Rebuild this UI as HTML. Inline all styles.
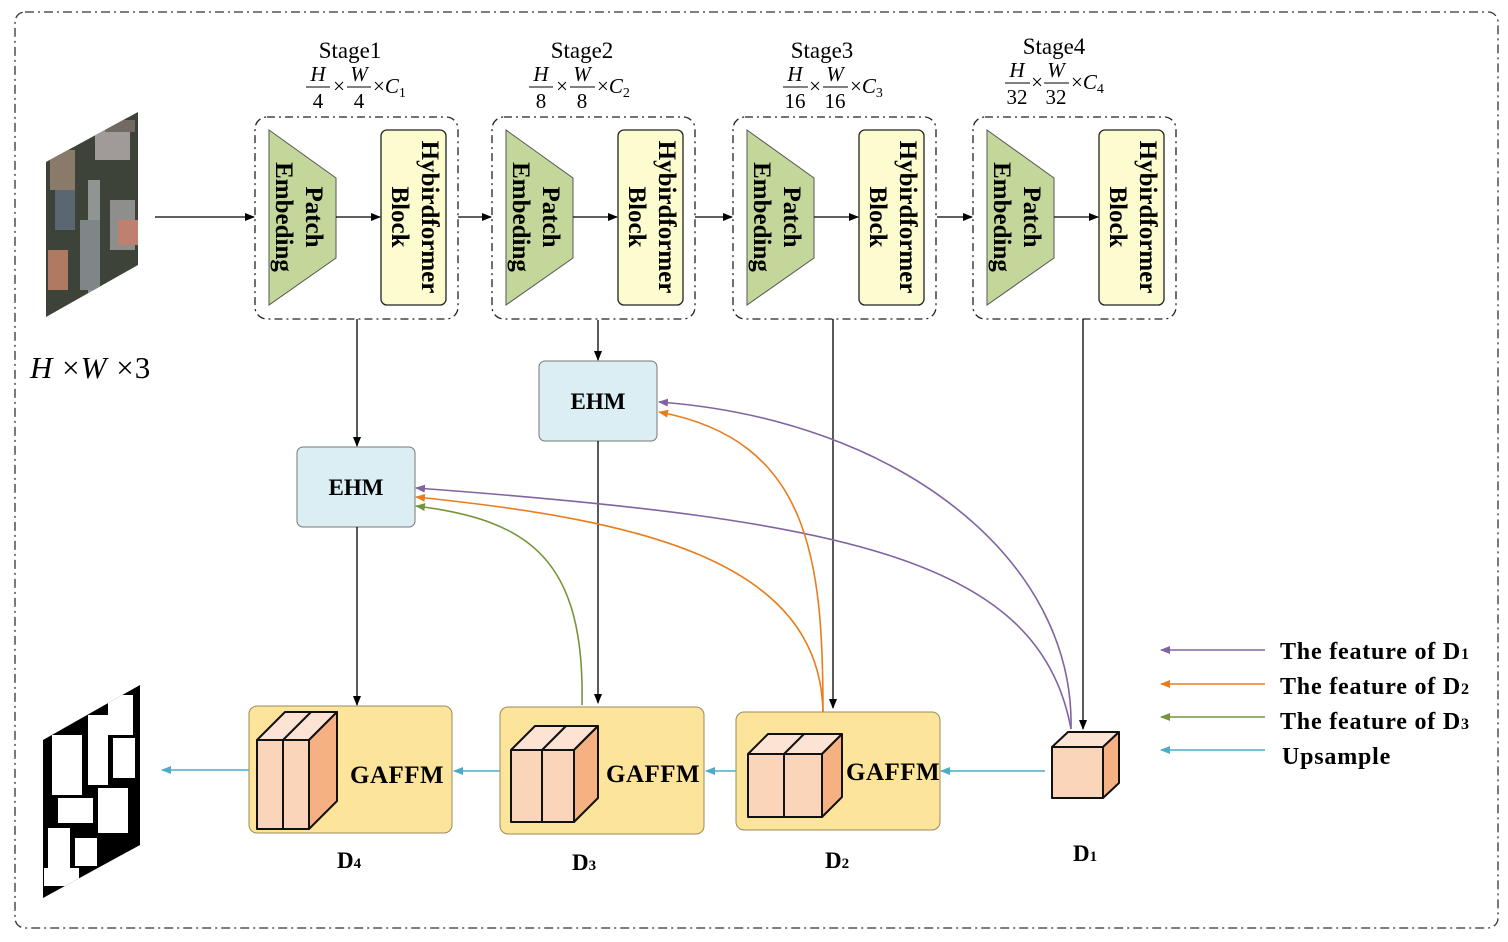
<!DOCTYPE html>
<html><head><meta charset="utf-8"><style>
html,body{margin:0;padding:0;background:#fff}
svg{display:block}
text{font-family:"Liberation Serif",serif}
.b{font-weight:bold}
</style></head><body>
<svg width="1508" height="942" viewBox="0 0 1508 942" xmlns="http://www.w3.org/2000/svg">
<defs>
<marker id="ak" markerWidth="10" markerHeight="8" refX="9" refY="4" orient="auto" markerUnits="userSpaceOnUse"><path d="M0,0 L10,4 L0,8 Z" fill="#000"/></marker>
<marker id="ac" markerWidth="10" markerHeight="8" refX="9" refY="4" orient="auto" markerUnits="userSpaceOnUse"><path d="M0,0 L10,4 L0,8 Z" fill="#4bacc6"/></marker>
<marker id="ap" markerWidth="10" markerHeight="8" refX="9" refY="4" orient="auto" markerUnits="userSpaceOnUse"><path d="M0,0 L10,4 L0,8 Z" fill="#8064a2"/></marker>
<marker id="ao" markerWidth="10" markerHeight="8" refX="9" refY="4" orient="auto" markerUnits="userSpaceOnUse"><path d="M0,0 L10,4 L0,8 Z" fill="#e87d1e"/></marker>
<marker id="ag" markerWidth="10" markerHeight="8" refX="9" refY="4" orient="auto" markerUnits="userSpaceOnUse"><path d="M0,0 L10,4 L0,8 Z" fill="#77933c"/></marker>
<clipPath id="cin"><polygon points="46,162 138,112 138,265 46,317"/></clipPath>
<clipPath id="cout"><polygon points="43,740 140,685 140,845 43,898"/></clipPath>
<g id="stage">
<rect x="255" y="117" width="203" height="202" rx="12" fill="none" stroke="#222" stroke-width="1.3" stroke-dasharray="8,4,2,4"/>
<polygon points="269,130 336,178 336,258 269,305" fill="#c4d79b" stroke="#555" stroke-width="1"/>
<rect x="381" y="130" width="65" height="175" rx="6" fill="#fdfccf" stroke="#222" stroke-width="1.3"/>
<line x1="336" y1="217" x2="380" y2="217" stroke="#000" stroke-width="1.3" marker-end="url(#ak)"/>
<text class="b" font-size="25" text-anchor="middle" transform="translate(306,217) rotate(90)">Patch</text>
<text class="b" font-size="25" text-anchor="middle" transform="translate(276,217) rotate(90)">Embeding</text>
<text class="b" font-size="25" text-anchor="middle" transform="translate(422,217) rotate(90)">Hybirdformer</text>
<text class="b" font-size="25" text-anchor="middle" transform="translate(392,217) rotate(90)">Block</text>
</g>
</defs>

<rect x="15" y="12" width="1483" height="916" rx="10" fill="none" stroke="#333" stroke-width="1.3" stroke-dasharray="9,4,2,4"/>

<use href="#stage"/>
<use href="#stage" transform="translate(237,0)"/>
<use href="#stage" transform="translate(478,0)"/>
<use href="#stage" transform="translate(718,0)"/>

<g font-size="23" text-anchor="middle">
<text x="350" y="58">Stage1</text>
<text x="582" y="58">Stage2</text>
<text x="822" y="58">Stage3</text>
<text x="1054" y="54">Stage4</text>
</g>
<g font-size="21">
<text x="318" y="81" text-anchor="middle" font-style="italic">H</text><line x1="306" y1="87" x2="330" y2="87" stroke="#000"/><text x="318" y="108" text-anchor="middle">4</text>
<text x="339" y="93" text-anchor="middle">×</text>
<text x="359" y="81" text-anchor="middle" font-style="italic">W</text><line x1="347" y1="87" x2="371" y2="87" stroke="#000"/><text x="359" y="108" text-anchor="middle">4</text>
<text x="373" y="93">×<tspan font-style="italic">C</tspan><tspan font-size="14" dy="4">1</tspan></text>
<text x="541" y="81" text-anchor="middle" font-style="italic">H</text><line x1="529" y1="87" x2="553" y2="87" stroke="#000"/><text x="541" y="108" text-anchor="middle">8</text>
<text x="562" y="93" text-anchor="middle">×</text>
<text x="582" y="81" text-anchor="middle" font-style="italic">W</text><line x1="570" y1="87" x2="595" y2="87" stroke="#000"/><text x="582" y="108" text-anchor="middle">8</text>
<text x="597" y="93">×<tspan font-style="italic">C</tspan><tspan font-size="14" dy="4">2</tspan></text>
<text x="795" y="81" text-anchor="middle" font-style="italic">H</text><line x1="783" y1="87" x2="808" y2="87" stroke="#000"/><text x="795" y="108" text-anchor="middle">16</text>
<text x="815" y="93" text-anchor="middle">×</text>
<text x="835" y="81" text-anchor="middle" font-style="italic">W</text><line x1="823" y1="87" x2="848" y2="87" stroke="#000"/><text x="835" y="108" text-anchor="middle">16</text>
<text x="850" y="93">×<tspan font-style="italic">C</tspan><tspan font-size="14" dy="4">3</tspan></text>
<text x="1017" y="77" text-anchor="middle" font-style="italic">H</text><line x1="1005" y1="83" x2="1030" y2="83" stroke="#000"/><text x="1017" y="104" text-anchor="middle">32</text>
<text x="1037" y="89" text-anchor="middle">×</text>
<text x="1056" y="77" text-anchor="middle" font-style="italic">W</text><line x1="1044" y1="83" x2="1069" y2="83" stroke="#000"/><text x="1056" y="104" text-anchor="middle">32</text>
<text x="1071" y="89">×<tspan font-style="italic">C</tspan><tspan font-size="14" dy="4">4</tspan></text>
</g>

<g clip-path="url(#cin)">
<rect x="40" y="100" width="110" height="230" fill="#3d4338"/>
<rect x="50" y="150" width="25" height="40" fill="#8a7a6a"/>
<rect x="95" y="130" width="35" height="30" fill="#a09a98"/>
<rect x="88" y="180" width="12" height="130" fill="#8f9592"/>
<rect x="80" y="220" width="20" height="70" fill="#7d8788"/>
<rect x="110" y="200" width="25" height="50" fill="#8e8f8c"/>
<rect x="48" y="250" width="20" height="40" fill="#b07a62"/>
<rect x="118" y="220" width="20" height="25" fill="#c08070"/>
<rect x="55" y="190" width="20" height="40" fill="#5a6670"/>
<rect x="105" y="120" width="30" height="12" fill="#706a62"/>
</g>
<line x1="155" y1="217" x2="254" y2="217" stroke="#000" stroke-width="1.3" marker-end="url(#ak)"/>
<text x="30" y="378" font-size="31" font-style="italic" letter-spacing="1">H <tspan font-style="normal">×</tspan>W <tspan font-style="normal">×</tspan><tspan font-style="normal">3</tspan></text>

<line x1="458" y1="217" x2="491" y2="217" stroke="#000" stroke-width="1.3" marker-end="url(#ak)"/>
<line x1="695" y1="217" x2="732" y2="217" stroke="#000" stroke-width="1.3" marker-end="url(#ak)"/>
<line x1="937" y1="217" x2="972" y2="217" stroke="#000" stroke-width="1.3" marker-end="url(#ak)"/>

<rect x="297" y="447" width="118" height="80" rx="6" fill="#dbeef3" stroke="#777" stroke-width="1"/>
<text class="b" x="356" y="495" font-size="23" text-anchor="middle">EHM</text>
<rect x="539" y="361" width="118" height="80" rx="6" fill="#dbeef3" stroke="#777" stroke-width="1"/>
<text class="b" x="598" y="409" font-size="23" text-anchor="middle">EHM</text>

<g stroke="#000" stroke-width="1.3" fill="none">
<line x1="357" y1="319" x2="357" y2="446" marker-end="url(#ak)"/>
<line x1="598" y1="320" x2="598" y2="360" marker-end="url(#ak)"/>
<line x1="357" y1="527" x2="357" y2="705" marker-end="url(#ak)"/>
<line x1="598" y1="441" x2="598" y2="703" marker-end="url(#ak)"/>
<line x1="833" y1="319" x2="833" y2="708" marker-end="url(#ak)"/>
<line x1="1083" y1="319" x2="1083" y2="729" marker-end="url(#ak)"/>
</g>

<rect x="249" y="706" width="203" height="127" rx="8" fill="#fde49b" stroke="#9a8a5a" stroke-width="1"/>
<rect x="500" y="707" width="204" height="127" rx="8" fill="#fde49b" stroke="#9a8a5a" stroke-width="1"/>
<rect x="736" y="712" width="204" height="118" rx="8" fill="#fde49b" stroke="#9a8a5a" stroke-width="1"/>
<g font-size="25" font-weight="bold" letter-spacing="0.5">
<text x="350" y="783">GAFFM</text>
<text x="606" y="782">GAFFM</text>
<text x="846" y="780">GAFFM</text>
</g>

<g stroke="#111" stroke-width="2" stroke-linejoin="round">
<polygon points="257,740 285,712 337,712 309,740" fill="#fde3d3"/>
<line x1="283" y1="740" x2="311" y2="712"/>
<polygon points="309,740 337,712 337,801 309,829" fill="#f6b183"/>
<rect x="257" y="740" width="26" height="89" fill="#fbd5b9"/>
<rect x="283" y="740" width="26" height="89" fill="#fbd5b9"/>
<polygon points="511,750 535,726 598,726 574,750" fill="#fde3d3"/>
<line x1="542" y1="750" x2="566" y2="726"/>
<polygon points="574,750 598,726 598,798 574,822" fill="#f6b183"/>
<rect x="511" y="750" width="31" height="72" fill="#fbd5b9"/>
<rect x="542" y="750" width="32" height="72" fill="#fbd5b9"/>
<polygon points="748,754 768,734 842,734 822,754" fill="#fde3d3"/>
<line x1="784" y1="754" x2="804" y2="734"/>
<polygon points="822,754 842,734 842,797 822,817" fill="#f6b183"/>
<rect x="748" y="754" width="36" height="63" fill="#fbd5b9"/>
<rect x="784" y="754" width="38" height="63" fill="#fbd5b9"/>
<polygon points="1052,747 1068,732 1119,732 1103,747" fill="#fde3d3"/>
<polygon points="1103,747 1119,732 1119,783 1103,798" fill="#f6b183"/>
<rect x="1052" y="747" width="51" height="51" fill="#fbd5b9"/>
</g>

<g font-size="23" font-weight="bold">
<text x="337" y="868">D<tspan font-size="15">4</tspan></text>
<text x="572" y="870">D<tspan font-size="15">3</tspan></text>
<text x="825" y="868">D<tspan font-size="15">2</tspan></text>
<text x="1073" y="861">D<tspan font-size="15">1</tspan></text>
</g>

<g stroke="#4bacc6" stroke-width="1.5">
<line x1="1045" y1="771" x2="941" y2="771" marker-end="url(#ac)"/>
<line x1="736" y1="771" x2="706" y2="771" marker-end="url(#ac)"/>
<line x1="500" y1="771" x2="454" y2="771" marker-end="url(#ac)"/>
<line x1="249" y1="770" x2="162" y2="770" marker-end="url(#ac)"/>
</g>

<g fill="none" stroke-width="1.6">
<path d="M1071,729 C1075,560 900,420 659,402" stroke="#8064a2" marker-end="url(#ap)"/>
<path d="M1071,729 C1040,560 850,520 416,488" stroke="#8064a2" marker-end="url(#ap)"/>
<path d="M823,712 C823,560 810,440 659,412" stroke="#e87d1e" marker-end="url(#ao)"/>
<path d="M823,712 C820,560 640,520 416,497" stroke="#e87d1e" marker-end="url(#ao)"/>
<path d="M582,705 C585,560 530,520 416,506" stroke="#77933c" marker-end="url(#ag)"/>
</g>

<g clip-path="url(#cout)">
<rect x="40" y="680" width="105" height="225" fill="#000"/>
<g fill="#fff">
<rect x="52" y="735" width="30" height="60"/>
<rect x="88" y="715" width="20" height="70"/>
<rect x="108" y="695" width="25" height="40"/>
<rect x="58" y="798" width="35" height="25"/>
<rect x="98" y="788" width="30" height="45"/>
<rect x="48" y="828" width="22" height="45"/>
<rect x="75" y="838" width="22" height="28"/>
<rect x="113" y="738" width="22" height="40"/>
<rect x="44" y="868" width="35" height="18"/>
</g>
</g>

<g stroke-width="1.6">
<line x1="1265" y1="650" x2="1161" y2="650" stroke="#8064a2" marker-end="url(#ap)"/>
<line x1="1265" y1="684" x2="1161" y2="684" stroke="#e87d1e" marker-end="url(#ao)"/>
<line x1="1265" y1="717" x2="1161" y2="717" stroke="#77933c" marker-end="url(#ag)"/>
<line x1="1265" y1="750" x2="1161" y2="750" stroke="#4bacc6" marker-end="url(#ac)"/>
</g>
<g font-size="24" font-weight="bold" letter-spacing="0.8">
<text x="1280" y="659">The feature of D<tspan font-size="16">1</tspan></text>
<text x="1280" y="694">The feature of D<tspan font-size="16">2</tspan></text>
<text x="1280" y="729">The feature of D<tspan font-size="16">3</tspan></text>
<text x="1282" y="764">Upsample</text>
</g>
</svg>
</body></html>
